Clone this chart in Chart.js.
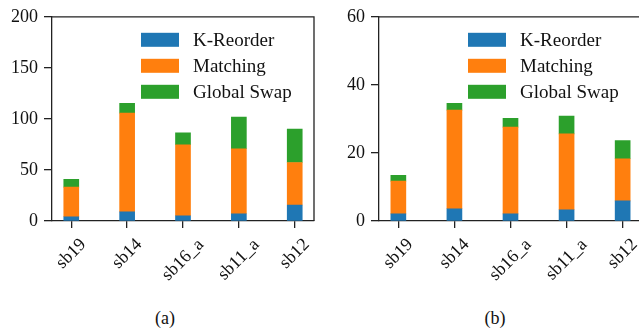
<!DOCTYPE html>
<html>
<head>
<meta charset="utf-8">
<script src="https://cdn.jsdelivr.net/npm/chart.js@4.4.1/dist/chart.umd.min.js"></script>
<style>
  html, body { margin: 0; padding: 0; background: #fff; }
  body { width: 639px; height: 332px; overflow: hidden; position: relative; }
  canvas { position: absolute; top: 0; }
  .caption { position: absolute; top: 308px; width: 60px; text-align: center;
             font-family: 'Liberation Serif'; font-size: 18px; color: #111; }
</style>
</head>
<body>
<canvas id="chartA" width="320" height="300" style="left:0"></canvas>
<canvas id="chartB" width="330" height="300" style="left:320px"></canvas>
<div class="caption" style="left:135px">(a)</div>
<div class="caption" style="left:465px">(b)</div>
<script>
// categories and series
const categories = ['sb19', 'sb14', 'sb16_a', 'sb11_a', 'sb12'];
const seriesNames = ['K-Reorder', 'Matching', 'Global Swap'];
const seriesColors = ['#1f77b4', '#ff7f0e', '#2ca02c'];

// panel (a)
const kReorderA = [4.2, 9.0, 5.1, 7.1, 15.7];
const matchingA = [28.9, 96.6, 69.6, 63.7, 41.6];
const globalSwapA = [7.7, 9.7, 11.6, 30.9, 32.8];
const yTicksA = [0, 50, 100, 150, 200];

// panel (b)
const kReorderB = [2.1, 3.6, 2.1, 3.3, 5.9];
const matchingB = [9.6, 29.0, 25.5, 22.3, 12.4];
const globalSwapB = [1.7, 2.0, 2.6, 5.2, 5.3];
const yTicksB = [0, 20, 40, 60];

const FONT = '"Liberation Serif"';
Chart.defaults.font.family = FONT;
Chart.defaults.color = '#111';

const axisColor = '#222';

// box on top/right, legend inside plot, rotated category labels
const framePlugin = {
  id: 'frame',
  afterDraw(chart) {
    const { ctx, chartArea: a } = chart;
    ctx.save();
    ctx.strokeStyle = axisColor;
    ctx.lineWidth = 1.3;
    ctx.beginPath();
    ctx.moveTo(a.left, a.top);
    ctx.lineTo(a.right, a.top);
    ctx.lineTo(a.right, a.bottom);
    ctx.stroke();
    ctx.restore();
  }
};

const legendPlugin = {
  id: 'insideLegend',
  afterDraw(chart) {
    const { ctx, chartArea: a } = chart;
    ctx.save();
    ctx.font = '19px ' + FONT;
    ctx.textBaseline = 'middle';
    ctx.textAlign = 'left';
    chart.data.datasets.forEach((ds, i) => {
      const x = a.left + 89;
      const y = a.top + 16 + i * 26;
      ctx.fillStyle = ds.backgroundColor;
      ctx.fillRect(x, y, 38, 14);
      ctx.fillStyle = '#111';
      ctx.fillText(ds.label, x + 52, y + 8);
    });
    ctx.restore();
  }
};

const xLabelPlugin = {
  id: 'xLabels',
  afterDraw(chart) {
    const { ctx, scales: { x }, chartArea: a } = chart;
    ctx.save();
    ctx.font = '18px ' + FONT;
    ctx.fillStyle = '#111';
    ctx.textAlign = 'center';
    ctx.textBaseline = 'middle';
    categories.forEach((c, i) => {
      const px = x.getPixelForValue(i);
      const w = ctx.measureText(c).width;
      const side = (w + 11) * Math.SQRT1_2;
      ctx.save();
      ctx.translate(px, a.bottom + 17 + side / 2);
      ctx.rotate(-Math.PI / 4);
      ctx.fillText(c, 0, 0);
      ctx.restore();
    });
    ctx.restore();
  }
};

function makeChart(id, series, yTicks, axisWidth, padRight) {
  const ctx = document.getElementById(id).getContext('2d');
  return new Chart(ctx, {
    type: 'bar',
    data: {
      datasets: series.map((vals, s) => ({
        label: seriesNames[s],
        data: vals.map((v, i) => ({ x: i, y: v })),
        backgroundColor: seriesColors[s],
        borderWidth: 0,
        barThickness: 15
      }))
    },
    options: {
      responsive: false,
      animation: false,
      devicePixelRatio: 1,
      layout: { padding: { top: 14, right: padRight, left: 0, bottom: 0 } },
      plugins: { legend: { display: false }, tooltip: { enabled: false } },
      scales: {
        x: {
          type: 'linear',
          stacked: true,
          offset: false,
          min: -0.345,
          max: categories.length - 1 + 0.345,
          afterBuildTicks: (axis) => { axis.ticks = categories.map((c, i) => ({ value: i })); },
          afterFit: (axis) => { axis.height = 79; },
          grid: { display: true, offset: false, drawOnChartArea: false, drawTicks: true,
                  tickLength: 7, color: axisColor, lineWidth: 1.3 },
          border: { display: true, color: axisColor, width: 1.3 },
          ticks: { display: false }
        },
        y: {
          stacked: true,
          min: yTicks[0],
          max: yTicks[yTicks.length - 1],
          afterBuildTicks: (axis) => { axis.ticks = yTicks.map(v => ({ value: v })); },
          afterFit: (axis) => { axis.width = axisWidth; },
          grid: { display: true, drawOnChartArea: false, drawTicks: true,
                  tickLength: 8, color: axisColor, lineWidth: 1.3 },
          border: { display: true, color: axisColor, width: 1.3 },
          ticks: { padding: 6, font: { size: 18, family: FONT }, color: '#111' }
        }
      }
    },
    plugins: [framePlugin, legendPlugin, xLabelPlugin]
  });
}

const charts = [
  makeChart('chartA', [kReorderA, matchingA, globalSwapA], yTicksA, 52, 6),
  makeChart('chartB', [kReorderB, matchingB, globalSwapB], yTicksB, 59, 8)
];

// redraw once the serif face is surely available to the canvas
document.fonts.load('18px ' + FONT).then(() => charts.forEach(c => c.update('none')));
</script>
</body>
</html>
